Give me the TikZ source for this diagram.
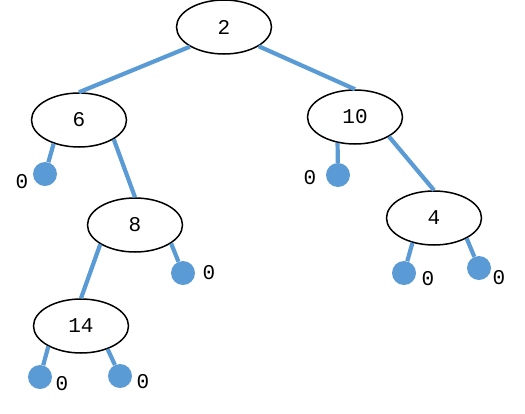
\documentclass[tikz,border=0pt]{standalone}
\usepackage{fontspec}
\setmonofont{Liberation Mono}
\usetikzlibrary{shapes.geometric}
\definecolor{linkblue}{HTML}{5B9BD5}

\begin{document}
\begin{tikzpicture}[x=1pt,y=-1pt,font=\ttfamily\fontsize{21}{25}\selectfont]
    \tikzstyle{key}=[ellipse,draw=black,line width=1.5pt,minimum width=95pt,minimum height=54pt,inner sep=0pt]
    \tikzstyle{nil}=[circle,fill=linkblue,minimum size=24pt,inner sep=0pt]
    \tikzstyle{link}=[draw=linkblue,line width=4.2pt]
    \tikzstyle{zero}=[inner sep=0pt]

    \useasboundingbox (0,0) rectangle (525,413);

    % Draw the keys of the tree
    \foreach \name / \x / \y in {2/224/27, 6/79/120, 10/355/117, 8/135/225, 4/434/218, 14/81/326}
        \node[key] (K-\name) at (\x,\y) {\name};

    % Connect every key with its children
    \foreach \source / \ang / \dest in {2/210/6, 2/331/10, 6/331/8, 10/330/4, 8/209/14}
        \path[link] (K-\source.\ang) -- (K-\dest.north);

    % Draw the empty leaves and their labels
    \foreach \parent / \ang / \name / \x / \y / \lx / \ly in
        {6/223/6L/45/174/22/182, 10/236/10L/338/175/310/178, 8/333/8R/183/273/209/273,
         4/229/4L/404/273/428/279, 4/328/4R/479/268/499/278,
         14/212/14L/40/377/62/384, 14/319/14R/120/376/143/382}
    {
        \node[nil] (N-\name) at (\x,\y) {};
        \node[zero] (Z-\name) at (\lx,\ly) {0};
        \path[link] (K-\parent.\ang) -- (N-\name);
    }
\end{tikzpicture}
\end{document}
